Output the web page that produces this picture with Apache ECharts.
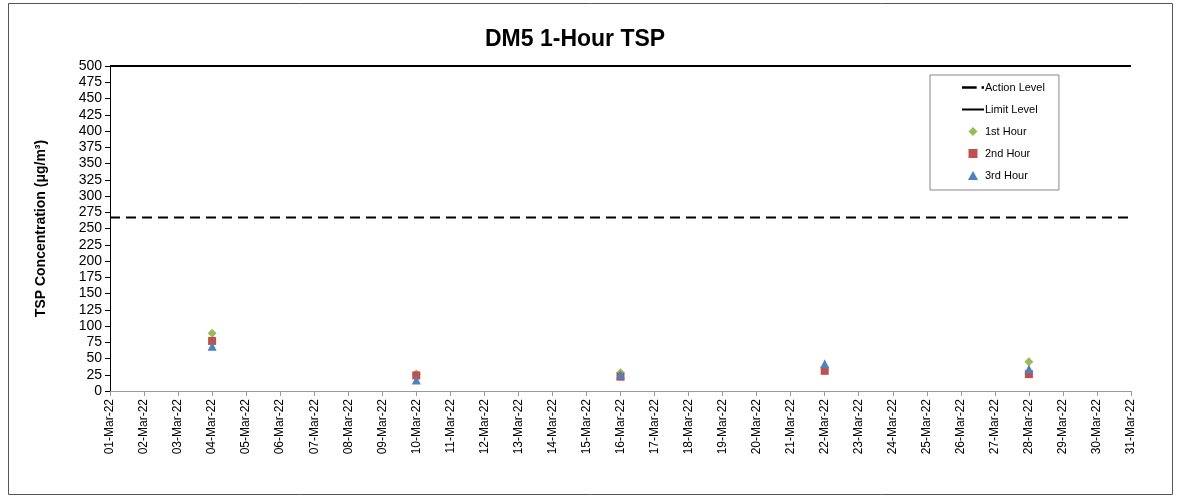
<!DOCTYPE html>
<html><head><meta charset="utf-8">
<script src="https://cdn.jsdelivr.net/npm/echarts@6/dist/echarts.min.js"></script>
<style>html,body{margin:0;padding:0;background:#fff}#c{width:1181px;height:499px}</style>
</head><body><div id="c"></div>
<script>
const dates = ['01-Mar-22','02-Mar-22','03-Mar-22','04-Mar-22','05-Mar-22','06-Mar-22','07-Mar-22','08-Mar-22','09-Mar-22','10-Mar-22','11-Mar-22','12-Mar-22','13-Mar-22','14-Mar-22','15-Mar-22','16-Mar-22','17-Mar-22','18-Mar-22','19-Mar-22','20-Mar-22','21-Mar-22','22-Mar-22','23-Mar-22','24-Mar-22','25-Mar-22','26-Mar-22','27-Mar-22','28-Mar-22','29-Mar-22','30-Mar-22','31-Mar-22'];
const sampleDates = ['04-Mar-22','10-Mar-22','16-Mar-22','22-Mar-22','28-Mar-22'];
const hour1 = [89, 26, 28, 36, 45];
const hour2 = [77, 24, 22, 31, 26];
const hour3 = [69, 17, 25, 42, 34];
const actionLevel = 267;
const limitLevel = 500;

const chart = echarts.init(document.getElementById('c'));
const font = 'Liberation Sans, Arial, sans-serif';
chart.setOption({
  animation: false,
  graphic: [{type:'rect', shape:{x:8.5,y:3.5,width:1164,height:491}, style:{fill:'none', stroke:'#555', lineWidth:1}}],
  title: {text:'DM5 1-Hour TSP', left: 480, top: 23, textStyle:{fontFamily:font, fontSize:23, fontWeight:'bold', color:'#000'}},
  grid: {left:110, right:50, top:66, bottom:108},
  legend: {
    orient:'vertical', left:930, top:75,
    backgroundColor:'#fff', borderColor:'#888', borderWidth:1, padding:[7,14,9,32],
    itemGap:11, itemWidth:22, itemHeight:9, symbolKeepAspect:true,
    textStyle:{fontFamily:font, fontSize:11, color:'#000', padding:[0,0,0,-4]},
    data:[
      {name:'Action Level', icon:'path://M0,0h12v2h-12zM16,0h2v2h-2z', itemStyle:{color:'#000'}},
      {name:'Limit Level', icon:'path://M0,0h22v2h-22z', itemStyle:{color:'#000'}},
      {name:'1st Hour', icon:'path://M11,0L15,4L11,8L7,4Z'},
      {name:'2nd Hour', icon:'path://M7,0h8v8h-8z'},
      {name:'3rd Hour', icon:'path://M11,0L15.5,8L6.5,8Z'}]
  },
  xAxis: {
    type:'category', data:dates, boundaryGap:false,
    axisLine:{lineStyle:{color:'#999'}},
    axisTick:{show:true, alignWithLabel:true, length:5, lineStyle:{color:'#999'}},
    axisLabel:{rotate:90, fontFamily:font, fontSize:12, color:'#000', interval:0, margin:8},
    splitLine:{show:false}
  },
  yAxis: {
    type:'value', min:0, max:500, interval:25,
    name:'TSP Concentration (μg/m³)', nameLocation:'middle', nameGap:62,
    nameTextStyle:{fontFamily:font, fontSize:14, fontWeight:'bold', color:'#000'},
    axisLine:{show:true, lineStyle:{color:'#000'}},
    axisTick:{show:true, length:5, lineStyle:{color:'#000'}},
    axisLabel:{fontFamily:font, fontSize:14, color:'#000', margin:8},
    splitLine:{show:false}
  },
  series: [
    {name:'Action Level', type:'line', data:dates.map(()=>actionLevel), showSymbol:false, symbol:'none',
     lineStyle:{color:'#000', width:2, type:[10,6]}, itemStyle:{color:'#000'}, z:1},
    {name:'Limit Level', type:'line', data:dates.map(()=>limitLevel), showSymbol:false, symbol:'none',
     lineStyle:{color:'#000', width:2}, itemStyle:{color:'#000'}, z:1},
    {name:'1st Hour', type:'scatter', symbol:'diamond', symbolSize:9,
     data:sampleDates.map((d,i)=>[d,hour1[i]]), itemStyle:{color:'#9BBB59', opacity:1}, z:3},
    {name:'2nd Hour', type:'scatter', symbol:'rect', symbolSize:8,
     data:sampleDates.map((d,i)=>[d,hour2[i]]), itemStyle:{color:'#C0504D', opacity:1}, z:4},
    {name:'3rd Hour', type:'scatter', symbol:'triangle', symbolSize:9,
     data:sampleDates.map((d,i)=>[d,hour3[i]]), itemStyle:{color:'#4F81BD', opacity:1}, z:5}
  ]
});
</script></body></html>
